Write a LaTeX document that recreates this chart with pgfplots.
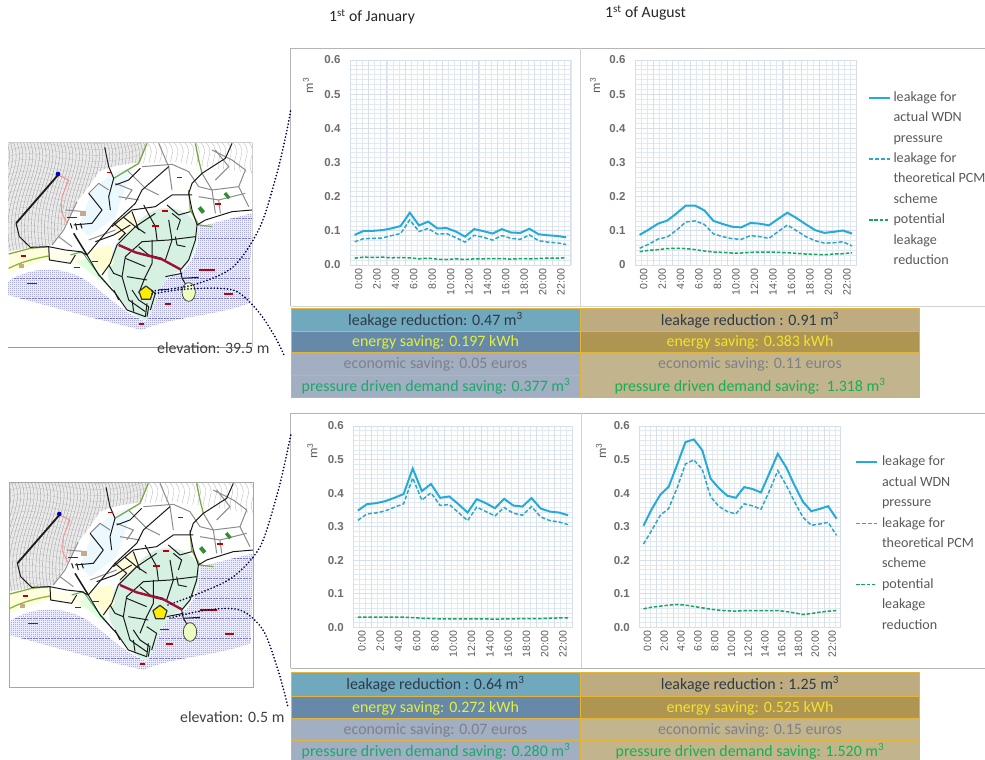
\documentclass[border=0pt]{standalone}
\usepackage{fontspec}
\usepackage{pgfplots}
\usepackage{pgfplotstable}
\pgfplotsset{compat=1.18}
\setmainfont{Carlito}
\newfontfamily\tickfont{Liberation Sans}
\definecolor{cact}{HTML}{25ABD8}
\definecolor{cpcm}{HTML}{2AA8C8}
\definecolor{cgrn}{HTML}{16A562}
\definecolor{gmaj}{HTML}{D6DFEB}
\definecolor{gmin}{HTML}{E0E8F2}
\definecolor{lab}{HTML}{595959}
\definecolor{frame}{HTML}{B5B5B5}
\definecolor{gold}{HTML}{E2B43A}
\definecolor{aa}{HTML}{70A8BE}\definecolor{ab}{HTML}{BEAC80}
\definecolor{ba}{HTML}{6688A9}\definecolor{bb}{HTML}{AF9552}
\definecolor{ca}{HTML}{A2AEC1}\definecolor{cb}{HTML}{C2B48C}
\definecolor{tdark}{HTML}{2E3A46}
\definecolor{tyl}{HTML}{E4F040}\definecolor{tyr}{HTML}{F2E32E}
\definecolor{tgray}{HTML}{7E808A}
\definecolor{tgl}{HTML}{1CA86C}\definecolor{tgr}{HTML}{16B052}
\definecolor{road}{HTML}{1A1A1A}
\definecolor{redp}{HTML}{A01038}

\pgfplotstableread{
h a p g
0 .088 .068 .020
1 .100 .077 .023
2 .100 .078 .022
3 .102 .079 .023
4 .107 .086 .021
5 .114 .092 .022
6 .153 .132 .021
7 .116 .098 .018
8 .127 .107 .020
9 .107 .090 .017
10 .108 .092 .016
11 .098 .080 .018
12 .083 .067 .016
13 .105 .087 .018
14 .099 .081 .018
15 .092 .073 .019
16 .105 .086 .019
17 .095 .078 .017
18 .094 .075 .019
19 .106 .088 .018
20 .090 .071 .019
21 .087 .067 .020
22 .085 .065 .020
23 .081 .060 .021
}\tabA
\pgfplotstableread{
h a p g
0 .088 .049 .039
1 .104 .061 .043
2 .121 .076 .045
3 .130 .082 .048
4 .151 .102 .049
5 .174 .126 .048
6 .174 .129 .045
7 .160 .119 .041
8 .129 .091 .038
9 .120 .083 .037
10 .112 .077 .035
11 .110 .075 .035
12 .123 .086 .037
13 .121 .083 .038
14 .116 .078 .038
15 .135 .098 .037
16 .153 .117 .036
17 .137 .100 .034
18 .119 .083 .032
19 .102 .071 .031
20 .094 .064 .030
21 .097 .065 .032
22 .101 .068 .033
23 .092 .056 .036
}\tabB
\pgfplotstableread{
h a p g
0 .348 .319 .030
1 .367 .338 .030
2 .370 .341 .030
3 .376 .347 .030
4 .386 .358 .030
5 .397 .368 .030
6 .473 .445 .029
7 .406 .379 .027
8 .427 .401 .026
9 .386 .363 .025
10 .390 .366 .025
11 .367 .342 .025
12 .342 .318 .025
13 .382 .358 .025
14 .370 .345 .025
15 .355 .332 .024
16 .383 .357 .025
17 .363 .340 .025
18 .360 .334 .026
19 .385 .360 .026
20 .354 .329 .026
21 .345 .318 .027
22 .342 .314 .028
23 .334 .306 .028
}\tabC
\pgfplotstableread{
h a p g
0 .303 .248 .055
1 .353 .290 .060
2 .395 .334 .063
3 .419 .354 .066
4 .484 .415 .068
5 .552 .487 .066
6 .560 .499 .062
7 .528 .471 .058
8 .443 .389 .054
9 .414 .360 .051
10 .392 .345 .049
11 .386 .338 .048
12 .418 .368 .050
13 .412 .362 .050
14 .402 .352 .050
15 .459 .406 .050
16 .517 .467 .050
17 .477 .424 .047
18 .423 .374 .043
19 .374 .328 .038
20 .346 .304 .041
21 .353 .308 .045
22 .361 .313 .048
23 .324 .274 .050
}\tabD

\pgfplotsset{
 pan/.style={
  scale only axis, xmin=-0.5, xmax=23.5, ymin=0, ymax=0.6,
  axis line style={draw=none}, tick style={draw=none},
  xtick={0,2,...,22},
  xticklabels={0:00,2:00,4:00,6:00,8:00,10:00,12:00,14:00,16:00,18:00,20:00,22:00},
  minor xtick={-0.5,0.1667,...,23.6},
  extra x ticks={-0.5,1.5,...,23.5},
  extra x tick labels={},
  extra x tick style={grid=major},
  ytick={0,0.1,0.2,0.3,0.4,0.5,0.6},
  yticklabels={0.0,0.1,0.2,0.3,0.4,0.5,0.6},
  minor y tick num=6,
  ymajorgrids, yminorgrids, xminorgrids,
  major grid style={gmaj,line width=0.7pt},
  minor grid style={gmin,line width=0.6pt},
  yticklabel style={font=\fontsize{11.5}{12}\tickfont\bfseries, text=lab!88, anchor=east, xshift=-6pt},
  xticklabel style={font=\fontsize{10.6}{11}\tickfont, text=lab, rotate=90, anchor=east, yshift=-4pt, xshift=0pt},
  ylabel style={rotate=0,font=\fontsize{13}{14}\selectfont,text=lab,anchor=center},
 },
 lact/.style={cact,line width=2pt,no marks},
 lpcm/.style={cpcm,line width=1.5pt,no marks,dash pattern=on 4pt off 2pt},
 lgrn/.style={cgrn,line width=1.5pt,no marks,dash pattern=on 3.5pt off 1.8pt},
 leg/.style={legend style={draw=none,fill=none,inner sep=0pt,outer sep=0pt,
   font=\fontsize{14.1}{15}\selectfont,
   row sep=10.2pt,
   column sep=2.5pt,
   cells={anchor=base west},
   nodes={inner sep=0pt,outer sep=0pt,text=lab,text height=7pt,text depth=3.2pt}},
   legend image code/.code={\path (0pt,0pt);\draw[##1] (0pt,3.6pt) -- (21pt,3.6pt);}},
}

% --- the schematic map, in coordinates of a 3x enlargement
\newcommand\mapbody{%
  \fill[white] (28,38) rectangle (760,652);
  % sea
  \begin{scope}
    \clip (28,455) .. controls (90,410) and (190,405) .. (260,450) .. controls (320,490) and (360,540) .. (440,575)
      .. controls (480,520) and (470,450) .. (540,430) .. controls (590,400) and (600,340) .. (600,290)
      -- (760,250) -- (752,520) .. controls (640,560) and (520,560) .. (430,600)
      .. controls (300,570) and (120,520) .. (28,495) -- cycle;
    \fill[blue!8] (0,200) rectangle (800,620);
    \foreach \y in {248,254,...,602} {\draw[blue!55!black!32,line width=0.45pt,dash pattern=on 1pt off 1pt] (28,\y) -- (760,\y);}
    \foreach \y in {266,326,...,602} {\draw[blue!60!black!55,line width=0.5pt,dash pattern=on 2pt off 1pt] (28,\y) -- (760,\y);}
  \end{scope}
  % hill contours
  \begin{scope}
    \clip (28,38) -- (445,38) -- (425,95) -- (340,110) -- (300,125) -- (270,170) -- (235,215) -- (190,300) -- (160,345) -- (95,352) -- (28,365) -- cycle;
    \fill[black!8] (0,30) rectangle (460,370);
    \foreach \i in {-6,...,46} {\draw[black!40,line width=0.35pt] ({\i*10},30) .. controls ({\i*10+50},110) and ({\i*10-70},210) .. ({\i*10-20},380);}
    \foreach \i in {-6,...,20} {\draw[black!24,line width=0.3pt] (20,{30+\i*18}) .. controls (120,{\i*18-20}) and (240,{\i*18+90}) .. (460,{\i*18+10});}
  \end{scope}
  % light contours top right
  \begin{scope}
    \clip (445,38) -- (760,38) -- (760,130) -- (620,110) -- (520,95) -- (430,100) -- cycle;
    \foreach \i in {0,...,22} {\draw[black!28,line width=0.35pt] ({430+\i*16},38) .. controls ({460+\i*16},70) and ({420+\i*16},90) .. ({440+\i*16},130);}
  \end{scope}
  % land tint
  \fill[cyan!30!green!16] (470,240) .. controls (540,220) and (590,260) .. (598,300) .. controls (600,350) and (570,410) .. (540,425)
     .. controls (470,450) and (480,520) .. (440,572) .. controls (400,560) and (370,520) .. (340,470)
     .. controls (310,430) and (340,360) .. (360,330) .. controls (400,290) and (440,250) .. (470,240) -- cycle;
  \fill[yellow!18] (270,360) -- (335,345) -- (345,400) -- (310,430) -- (285,400) -- cycle;
  \fill[yellow!14] (340,280) -- (400,245) -- (420,280) -- (360,325) -- cycle;
  \fill[cyan!8] (280,180) -- (340,130) -- (400,110) -- (350,260) -- (270,320) -- (240,290) -- cycle;
  \fill[yellow!14] (30,372) -- (150,352) -- (150,385) -- (30,430) -- cycle;
  \fill[yellow!8] (150,360) -- (245,372) -- (290,430) -- (215,400) -- (150,392) -- cycle;
  \fill[green!12] (235,395) -- (265,385) -- (330,470) -- (290,440) -- cycle;
  % grey roads
  \begin{scope}[black!45,line width=1pt]
    \draw (430,110) -- (520,103) -- (570,125) -- (600,170) -- (640,180) -- (720,170);
    \draw (610,130) -- (640,180) -- (650,250);
    \draw (700,90) -- (740,120) -- (720,170) -- (750,230);
    \draw (640,60) -- (700,90);
    \draw (480,40) -- (510,110) -- (520,180);
    \draw (350,160) -- (400,180) -- (380,210);
    \draw (440,175) -- (480,195);
    \draw (270,190) -- (300,160) -- (330,180);
    \draw (270,330) -- (350,300);
    \draw (160,345) -- (195,300) -- (235,215);
    \draw (650,60) -- (690,110) -- (650,150);
    \draw (660,210) -- (740,190);
    \draw (600,200) -- (660,210) -- (665,250);
    \draw (385,120) -- (440,175);
    \draw (360,200) -- (420,210);
    \draw (200,240) -- (260,245);
    \draw (180,320) -- (220,350);
  \end{scope}
  % coast / olive lines
  \draw[yellow!55!green!75!black,line width=1.3pt] (30,372) -- (95,355) -- (150,350);
  \draw[yellow!55!green!85!black,line width=1.3pt] (30,415) .. controls (70,395) and (110,385) .. (150,378);
  \draw[yellow!50!green!75!black,line width=1.3pt] (445,40) -- (420,100) -- (345,145);
  \draw[yellow!50!green!75!black,line width=1.3pt] (590,40) -- (600,90) -- (610,130);
  \draw[yellow!50!green!75!black,line width=1.3pt] (570,180) -- (575,240) -- (600,285) -- (640,290);
  \draw[green!55!black!70,line width=1pt] (215,375) -- (250,365) -- (290,420) -- (340,480);
  \draw[red!45!white,line width=0.9pt] (178,135) -- (210,150) -- (190,200) -- (188,245) -- (205,280);
  % network
  \begin{scope}[road,line width=1pt,line join=round]
    \draw[line width=1.8pt] (178,135) -- (52,280);
    \draw (52,280) -- (62,320) -- (95,352) -- (150,350) -- (200,360) -- (245,365) -- (265,375) -- (300,435) -- (350,490) -- (385,540) -- (440,560) -- (445,520);
    \draw (318,52) -- (330,110) -- (345,145) -- (330,200) -- (335,240);
    \draw (700,40) -- (680,85) -- (610,130) -- (580,160) -- (570,190) -- (580,240) -- (595,285) -- (590,330) -- (570,390) -- (545,420);
    \draw (760,240) -- (700,245) -- (620,270) -- (595,285);
    \draw (510,110) -- (430,180) -- (410,220) -- (345,280) -- (265,375);
    \draw[line width=1.5pt] (225,310) -- (265,375);
    \draw (225,285) -- (280,280) -- (310,240) -- (270,190);
    \draw (345,280) -- (380,310) -- (360,330);
    \draw (470,250) -- (410,290) -- (355,345) -- (335,400) -- (310,435);
    \draw (580,195) -- (520,195) -- (470,230) -- (400,240) -- (340,290);
    \draw (590,320) -- (510,330) -- (430,335) -- (380,380) -- (370,440) -- (390,510) -- (440,545);
    \draw (460,330) -- (460,400) -- (440,440) -- (420,490);
    \draw (500,390) -- (520,330) -- (510,270);
    \draw (380,385) -- (440,410);
    \draw (385,440) -- (445,450);
    \draw (400,480) -- (420,510);
    \draw (150,350) -- (152,390) -- (215,400) -- (230,375);
    \draw (230,280) -- (235,300) (245,280) -- (250,295) (215,280) -- (220,295);
    \draw (350,165) -- (390,150) -- (425,115);
    \draw (400,245) -- (420,300);
    \draw (435,225) -- (470,290) -- (475,330);
    \draw (520,250) -- (545,270) -- (535,300);
    \draw (545,420) -- (550,445) -- (600,442);
    \draw (500,440) -- (550,430);
    \draw (550,445) -- (565,470);
    \draw (420,510) -- (450,530) -- (445,560);
    \draw (375,262) -- (410,290) -- (440,310);
    \draw (290,335) -- (345,315) -- (395,285);
    \draw (330,405) -- (345,430) -- (370,440);
    \draw (420,350) -- (450,375) -- (490,385);
    \draw (505,225) -- (540,255) -- (575,245);
    \draw (530,320) -- (535,345) -- (560,350);
    \draw (400,510) -- (405,545);
    \draw (440,470) -- (470,490) -- (455,540);
    \draw (345,480) -- (360,510);
  \end{scope}
  \draw[redp,line width=2.4pt] (360,345) -- (410,367) -- (490,388) -- (545,418);
  % island
  \draw[black!70,fill=green!30!yellow!25,line width=0.8pt] (570,486) ellipse (20 and 28);
  % little red labels
  \foreach \a/\b/\c in {205/262/30,85/460/30,225/412/18,280/395/18,480/478/28,498/522/20,600/420/50,675/492/28,460/288/20,490/243/18,535/142/14,650/222/18,325/127/15,420/582/16,68/378/15} {
    \draw[red!75!black,line width=1.1pt] (\a,\b) -- ++(\c,0);}
  \fill[green!45!black!80,rotate around={-50:(608,240)}] (598,234) rectangle (618,246);
  \fill[green!45!black!80,rotate around={-50:(685,197)}] (675,192) rectangle (695,202);
  \fill[blue!75!black] (178,132) circle (7);
  \fill[orange!50!black!45] (243,244) rectangle (262,258);
  \fill[orange!50!black!45] (60,402) rectangle (75,414);
}
\newcommand\pent[2]{\draw[fill=yellow!95!orange,draw=black!80,line width=1.2pt,line join=round]
  (#1,#2-22) -- (#1+21,#2-6) -- (#1+13,#2+18) -- (#1-13,#2+18) -- (#1-21,#2-6) -- cycle;}
\newcommand\cellt[4]{\node[text=#3,font=\fontsize{15.9}{17}\selectfont,inner sep=0pt] at (#1,#2) {#4};}
\newcommand\m{m\textsuperscript{3}}
\newcommand\tbl[8]{%
  \fill[aa] (291,#1) rectangle (580,#2); \fill[ab] (580,#1) rectangle (919,#2);
  \fill[ba] (291,#2) rectangle (580,#3); \fill[bb] (580,#2) rectangle (919,#3);
  \fill[ca] (291,#3) rectangle (580,#5); \fill[cb] (580,#3) rectangle (919,#5);
  \draw[gold,line width=0.8pt] (291,#1) rectangle (919,#5);
  \draw[gold,line width=0.8pt] (291,#2) -- (919,#2) (291,#3) -- (919,#3) (291,#4) -- (919,#4) (580,#1) -- (580,#5);
}

\begin{document}
\begin{tikzpicture}[x=1pt,y=1pt]
\path[use as bounding box] (0,0) rectangle (985,760);
\begin{scope}[shift={(0,760)},y=-1pt]
  % titles
  \node[anchor=west,inner sep=0pt,text=black!85,font=\fontsize{15.7}{17}\selectfont] at (329,17) {1\textsuperscript{st} of January};
  \node[anchor=west,inner sep=0pt,text=black!85,font=\fontsize{15.7}{17}\selectfont] at (605,13) {1\textsuperscript{st} of August};
  % panels
  \draw[frame,line width=0.9pt] (290.5,306.5) -- (290.5,48.5) -- (985,48.5);
  \draw[frame!60,line width=0.7pt] (580.5,48.5) -- (580.5,306);
  \draw[frame!60,line width=0.7pt] (290.5,306.5) -- (985,306.5);
  \draw[frame,line width=0.9pt] (290.5,668) -- (290.5,413.5) -- (985,413.5);
  \draw[frame!60,line width=0.7pt] (581.5,413.5) -- (581.5,668);
  \draw[frame,line width=0.7pt] (290.5,668) -- (985,668);
  % tables
  \tbl{308.5}{331}{352.5}{375}{397}{}{}{}
  \cellt{435.5}{320}{tdark}{leakage reduction: 0.47 \m}
  \cellt{750}{320}{tdark}{leakage reduction : 0.91 \m}
  \cellt{435.5}{342.5}{tyl}{energy saving: 0.197 kWh}
  \cellt{750}{342.5}{tyr}{energy saving: 0.383 kWh}
  \cellt{435.5}{364}{tgray}{economic saving: 0.05 euros}
  \cellt{750}{364}{tgray}{economic saving: 0.11 euros}
  \cellt{436}{386}{tgl}{pressure driven demand saving: 0.377 \m}
  \cellt{750}{386}{tgr}{pressure driven demand saving:\ \ 1.318 \m}
  \tbl{672.5}{696}{718}{740.5}{760}{}{}{}
  \cellt{435.5}{684.5}{tdark}{leakage reduction : 0.64 \m}
  \cellt{750}{684.5}{tdark}{leakage reduction : 1.25 \m}
  \cellt{435.5}{708}{tyl}{energy saving: 0.272 kWh}
  \cellt{750}{708}{tyr}{energy saving: 0.525 kWh}
  \cellt{435.5}{730}{tgray}{economic saving: 0.07 euros}
  \cellt{750}{730}{tgray}{economic saving: 0.15 euros}
  \cellt{436}{751.5}{tgl}{pressure driven demand saving: 0.280 \m}
  \cellt{750}{751.5}{tgr}{pressure driven demand saving: 1.520 \m}
  % maps
  \begin{scope}[shift={(-1.3,130)},x=0.33333pt,y=-0.33333pt]
    \mapbody
    \draw[black!20,line width=0.6pt] (760,38) -- (760,652);
    \draw[black!20,line width=0.6pt] (28,38) -- (760,38);
    \draw[black!40,line width=0.6pt] (28,652) -- (760,652);
    \pent{442}{490}
  \end{scope}
  \begin{scope}[shift={(0,470)},x=0.33333pt,y=-0.33333pt]
    \mapbody
    \draw[black!35,line width=0.6pt] (28,38) rectangle (760,652);
    \pent{480}{428}
  \end{scope}
  % callouts
  \begin{scope}[line width=1.9pt,line cap=round,dash pattern=on 0pt off 3.3pt,black!70!blue]
    \draw plot[smooth] coordinates {(152,291) (193,285) (233,267) (260,227) (277,173) (287,130) (291,108)};
    \draw plot[smooth] coordinates {(152,294) (187,289) (233,290) (257,310) (274,335) (284,355)};
    \draw plot[smooth] coordinates {(168,605) (200,593) (233,577) (260,547) (277,495) (285,462) (291,434)};
    \draw plot[smooth] coordinates {(170,618) (207,610) (240,610) (263,630) (278,670) (288,707)};
  \end{scope}
  % elevation
  \node[anchor=west,inner sep=0pt,text=black!75,font=\fontsize{15.8}{17}\selectfont] at (157,348) {elevation: 39.5 m};
  \node[anchor=west,inner sep=0pt,text=black!75,font=\fontsize{15.8}{17}\selectfont] at (180,717) {elevation: 0.5 m};
\end{scope}

% --- charts
\begin{axis}[pan,at={(350pt,495pt)},anchor=south west,width=220.8pt,height=205pt,
   ylabel={m\textsuperscript{3}},ylabel style={at={(axis description cs:-0.19,0.875)}}]
 \addplot[lact] table[x=h,y=a] {\tabA};
 \addplot[lpcm] table[x=h,y=p] {\tabA};
 \addplot[lgrn] table[x=h,y=g] {\tabA};
\end{axis}
\begin{axis}[pan,leg,at={(635pt,495pt)},anchor=south west,width=221.7pt,height=205pt,
   yticklabels={0,0.1,0.2,0.3,0.4,0.5,0.6},
   legend style={at={(axis description cs:1.051,0.833)},anchor=north west},
   ylabel={m\textsuperscript{3}},ylabel style={at={(axis description cs:-0.18,0.875)}}]
 \addplot[lact] table[x=h,y=a] {\tabB};
 \addlegendentry{leakage for}
 \addlegendimage{empty legend}\addlegendentry{actual WDN}
 \addlegendimage{empty legend}\addlegendentry{pressure}
 \addplot[lpcm] table[x=h,y=p] {\tabB};
 \addlegendentry{leakage for}
 \addlegendimage{empty legend}\addlegendentry{theoretical PCM}
 \addlegendimage{empty legend}\addlegendentry{scheme}
 \addplot[lgrn] table[x=h,y=g] {\tabB};
 \addlegendentry{potential}
 \addlegendimage{empty legend}\addlegendentry{leakage}
 \addlegendimage{empty legend}\addlegendentry{reduction}
\end{axis}
\begin{axis}[pan,at={(353.3pt,132.7pt)},anchor=south west,width=219.4pt,height=201.3pt,
   ylabel={m\textsuperscript{3}},ylabel style={at={(axis description cs:-0.187,0.875)}}]
 \addplot[lact] table[x=h,y=a] {\tabC};
 \addplot[lpcm] table[x=h,y=p] {\tabC};
 \addplot[lgrn] table[x=h,y=g] {\tabC};
\end{axis}
\begin{axis}[pan,leg,at={(639.3pt,132.7pt)},anchor=south west,width=201.4pt,height=201.3pt,
   legend style={at={(axis description cs:1.071,0.837)},anchor=north west,column sep=4pt},
   ylabel={m\textsuperscript{3}},ylabel style={at={(axis description cs:-0.19,0.875)}}]
 \addplot[lact] table[x=h,y=a] {\tabD};
 \addlegendentry{leakage for}
 \addlegendimage{empty legend}\addlegendentry{actual WDN}
 \addlegendimage{empty legend}\addlegendentry{pressure}
 \addplot[lpcm] table[x=h,y=p] {\tabD};
 \addlegendentry{leakage for}
 \addlegendimage{empty legend}\addlegendentry{theoretical PCM}
 \addlegendimage{empty legend}\addlegendentry{scheme}
 \addplot[lgrn] table[x=h,y=g] {\tabD};
 \addlegendentry{potential}
 \addlegendimage{empty legend}\addlegendentry{leakage}
 \addlegendimage{empty legend}\addlegendentry{reduction}
\end{axis}
\end{tikzpicture}
\end{document}
